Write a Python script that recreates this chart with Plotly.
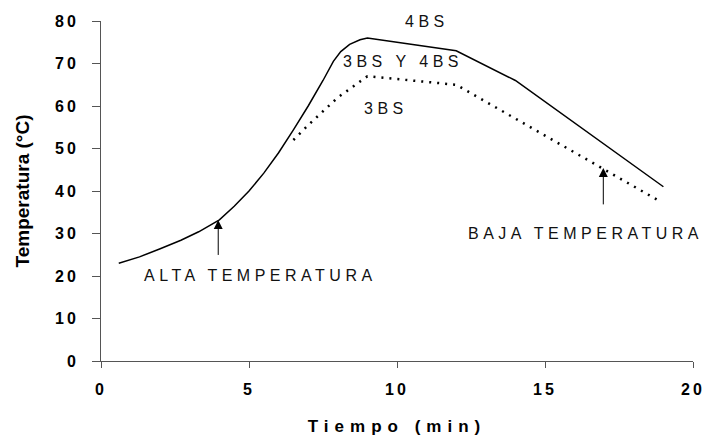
import plotly.graph_objects as go

# ---- data ----
tiempo_4bs = [0.6, 1.3, 2.0, 2.7, 3.3, 4.0, 4.5, 5.0, 5.5, 6.0, 6.5, 7.0, 7.5, 7.85, 8.1, 8.4, 8.75, 9.0, 12.0, 14.0, 19.0]
temp_4bs = [23.0, 24.5, 26.4, 28.4, 30.4, 33.2, 36.4, 40.0, 44.2, 49.0, 54.4, 60.0, 66.0, 70.5, 72.8, 74.5, 75.6, 76.0, 73.0, 66.0, 41.0]

tiempo_3bs = [6.5, 7.0, 8.0, 9.0, 12.0, 14.0, 17.0, 18.9]
temp_3bs = [52.0, 55.5, 62.0, 67.0, 65.0, 57.0, 45.2, 37.5]

x_ticks = [0, 5, 10, 15, 20]
x_tick_labels = ["0", "5", "10", "15", "20"]
y_ticks = [0, 10, 20, 30, 40, 50, 60, 70, 80]
y_tick_labels = ["0", "10", "20", "30", "40", "50", "60", "70", "80"]

labels = ["4BS", "3BS Y 4BS", "3BS", "ALTA TEMPERATURA", "BAJA TEMPERATURA"]
label_x = [11.0, 10.2, 9.62, 5.4, 16.36]
label_y = [79.8, 70.5, 59.3, 20.1, 30.1]

arrow_tail = [(3.96, 24.6), (16.97, 36.5)]
arrow_head = [(3.96, 33.2), (16.97, 45.4)]

FONT = "Liberation Sans, Arial, sans-serif"


def spaced(t, px):
    return f'<span style="letter-spacing:{px}px">{t}</span>'


fig = go.Figure()
fig.add_trace(go.Scatter(x=tiempo_4bs, y=temp_4bs, mode="lines",
                         line=dict(color="black", width=1.5), name="4BS",
                         showlegend=False))
fig.add_trace(go.Scatter(x=tiempo_3bs, y=temp_3bs, mode="lines",
                         line=dict(color="black", width=2.5, dash="2px,6px"), name="3BS",
                         showlegend=False))

for t, x, y in zip(labels, label_x, label_y):
    fig.add_annotation(x=x, y=y, xref="x", yref="y", text=spaced(t, 4.5),
                       showarrow=False, font=dict(family=FONT, size=16, color="#111"),
                       xanchor="center", yanchor="middle")

for (tx, ty), (hx, hy) in zip(arrow_tail, arrow_head):
    fig.add_annotation(x=hx, y=hy, ax=tx, ay=ty, xref="x", yref="y",
                       axref="x", ayref="y", text="", showarrow=True,
                       arrowhead=2, arrowsize=1.8, arrowwidth=1, arrowcolor="black")

fig.update_layout(
    width=705, height=437,
    margin=dict(l=101, r=12, t=21, b=76),
    plot_bgcolor="white", paper_bgcolor="white",
    font=dict(family=FONT, color="black"),
)
fig.update_xaxes(
    range=[0, 20], tickvals=x_ticks, ticktext=[spaced(t, 3) for t in x_tick_labels],
    showgrid=False, zeroline=False, showline=True, linecolor="#555", linewidth=1,
    ticks="outside", ticklen=6, tickcolor="#555", ticklabelstandoff=8,
    ticklabeloverflow="allow", automargin=False,
    tickfont=dict(family=FONT, size=16, color="black", weight="bold"),
    title=dict(text=spaced("Tiempo (min)", 6), font=dict(family=FONT, size=17, weight="bold"), standoff=22),
)
fig.update_yaxes(
    range=[0, 80], tickvals=y_ticks, ticktext=[spaced(t, 3) for t in y_tick_labels],
    showgrid=False, zeroline=False, showline=True, linecolor="#555", linewidth=1,
    ticks="outside", ticklen=8, tickcolor="#555", ticklabelstandoff=10,
    ticklabeloverflow="allow", automargin=False,
    tickfont=dict(family=FONT, size=16, color="black", weight="bold"),
    title=dict(text="Temperatura (°C)", font=dict(family=FONT, size=19, weight="bold"), standoff=20),
)

fig.write_html("out.html")
